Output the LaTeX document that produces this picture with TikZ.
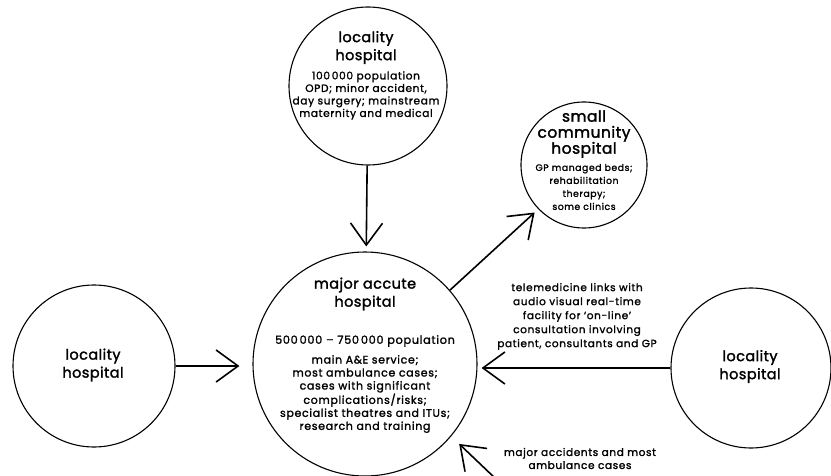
\documentclass[tikz,border=0pt]{standalone}
\usepackage{fontspec}
\setmainfont{Poppins}
\newfontfamily\hosptitle{Poppins}[LetterSpace=3,FakeBold=1.8]
\newfontfamily\hospbody{Poppins}[LetterSpace=6,FakeBold=1.6]
\usetikzlibrary{arrows.meta}
\begin{document}
\begin{tikzpicture}[x=1pt,y=-1pt,
  hosp/.style={circle,draw,line width=1.1pt,inner sep=0pt},
  conn/.style={line width=1.6pt,-{Straight Barb[length=22pt,width=32pt,line width=1.6pt]}},
  ttl/.style={align=center,inner sep=0pt,font=\hosptitle\fontsize{14.5}{18}\selectfont},
  sttl/.style={align=center,inner sep=0pt,font=\hosptitle\fontsize{15.5}{16}\selectfont},
  bdy/.style={align=center,inner sep=0pt,font=\hospbody\fontsize{11}{13}\selectfont},
]
\useasboundingbox (0,0) rectangle (831,476);
% circles
\node[hosp,minimum size=158pt] (top) at (368,86) {};
\node[hosp,minimum size=224pt] (major) at (365,364) {};
\node[hosp,minimum size=162pt] (left) at (94,366) {};
\node[hosp,minimum size=160pt] (right) at (751,368) {};
\node[hosp,minimum size=126pt] (small) at (584,165) {};
% texts
\node[ttl] (topt) at (366,47.5) {locality\\hospital};
\node[bdy,font=\hospbody\fontsize{10.6}{12.5}\selectfont] (topb) at (366,95.5) {100\,000 population\\OPD; minor accident,\\day surgery; mainstream\\maternity and medical};
\node[ttl] (majt) at (365,294) {major accute\\hospital};
\node[bdy,font=\hospbody\fontsize{11.3}{13}\selectfont] (majp) at (365,341) {500\,000 – 750\,000 population};
\node[bdy] (majb) at (365,394) {main A\&E service;\\most ambulance cases;\\cases with significant\\complications/risks;\\specialist theatres and ITUs;\\research and training};
\node[ttl] (leftt) at (93,365) {locality\\hospital};
\node[ttl] (rightt) at (750,366.5) {locality\\hospital};
\node[sttl] (smallt) at (584,134) {small\\community\\hospital};
\node[bdy,font=\hospbody\fontsize{9.3}{13}\selectfont] (smallb) at (584,187) {GP managed beds;\\rehabilitation\\therapy;\\some clinics};
\node[bdy,font=\hospbody\fontsize{10.5}{14}\selectfont] (tele) at (577,316.5) {telemedicine links with\\audio visual real-time\\facility for ‘on-line’\\consultation involving\\patient, consultants and GP};
\node[bdy,font=\hospbody\fontsize{10.5}{13}\selectfont] (acc) at (580,458.5) {major accidents and most\\ambulance cases};
% connectors
\draw[conn,shorten >=5pt] (top) -- (major);
\draw[conn,shorten >=5pt] (major.41) -- (small.224);
\draw[conn,shorten >=13pt] (left.east) -- (left.east -| major.west);
\draw[conn,shorten >=4pt] (right.west) -- (right.west -| major.east);
\coordinate (accend) at (497,480);
\draw[conn,shorten >=11pt] (accend) -- (major.-40);
\end{tikzpicture}
\end{document}
